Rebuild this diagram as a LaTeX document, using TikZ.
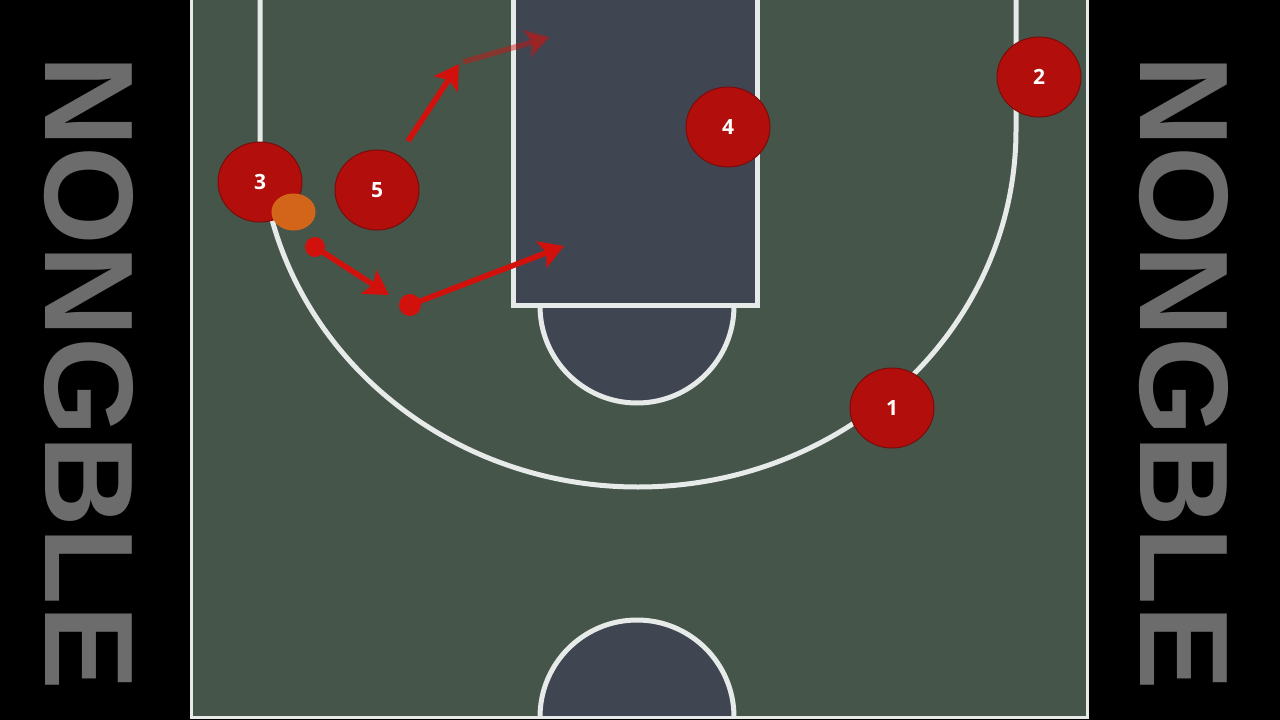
\documentclass[tikz,border=0pt]{standalone}
\usepackage{fontspec}
\setmainfont{Open Sans}
\newfontfamily\sidefont{Liberation Sans}
\usetikzlibrary{shapes.geometric,arrows.meta}
\definecolor{court}{HTML}{45554A}
\definecolor{paint}{HTML}{3F4551}
\definecolor{cline}{HTML}{E6EAE8}
\definecolor{pred}{HTML}{B20F0C}
\definecolor{pborder}{HTML}{7A0C0A}
\definecolor{ared}{HTML}{D3110C}
\definecolor{ball}{HTML}{D2651A}
\definecolor{sidegray}{HTML}{6C6C6C}
\tikzset{
  courtline/.style={draw=cline, line width=5pt},
  player/.style={ellipse, fill=pred, draw=pborder, line width=1pt, minimum width=84pt, minimum height=80pt, inner sep=0pt, text=white, font=\fontsize{21}{21}\selectfont\bfseries},
  arr/.style={draw=ared, line width=5.5pt, -{Stealth[length=24pt,width=28pt,inset=5pt]}},
  dotnode/.style={circle, fill=ared, inner sep=0pt, minimum size=20pt},
  sidetxt/.style={text=sidegray, inner sep=0pt, font=\sidefont\bfseries},
  balls/.style={ellipse, fill=ball, draw=ball!90!orange, line width=1pt, minimum width=43pt, minimum height=36pt, inner sep=0pt}
}
\begin{document}
\begin{tikzpicture}[x=1pt,y=-1pt]
\fill[black] (0,0) rectangle (1280,720);
\useasboundingbox (0,0) rectangle (1280,720);
% court
\fill[court] (190,0) rectangle (1089,719);
% bottom half circle
\begin{scope}
  \clip (190,0) rectangle (1089,717);
  \filldraw[fill=paint, courtline] (637,717) circle[radius=97pt];
\end{scope}
% free throw circle
\filldraw[fill=paint, courtline] (637,306) circle[radius=97pt];
% paint
\filldraw[fill=paint, courtline] (513,-5) rectangle (757,305.5);
% three point line
\draw[courtline] (260,-5) -- (260,130)
  arc[start angle=180, end angle=360, x radius=378pt, y radius=357pt]
  -- (1016,-5);
% court border
\draw[draw=cline, line width=2.5pt] (191.5,-2) -- (191.5,717.5) -- (1087.5,717.5) -- (1087.5,-2);
% side texts
\node[sidetxt, rotate=-90] (lt) at (89,372.5) {\resizebox{635pt}{88pt}{NONGBLE}};
\node[sidetxt, rotate=-90] (rt) at (1184,372.5) {\resizebox{635pt}{88pt}{NONGBLE}};
% arrows
\coordinate (a1s) at (408,141);
\coordinate (a1e) at (459,64);
\coordinate (a2s) at (463,62);
\coordinate (a2e) at (550,37);
\draw[arr] (a1s) -- (a1e);
\draw[arr, opacity=0.45] (a2s) -- (a2e);
\node[dotnode] (d1) at (315,247) {};
\coordinate (d1e) at (389,295);
\draw[arr] (d1.center) -- (d1e);
\node[dotnode, minimum size=22pt] (d2) at (410,305) {};
\coordinate (d2e) at (564,246);
\draw[arr] (d2.center) -- (d2e);
% players
\node[player] (p3) at (260,182) {3};
\node[player] (p5) at (377,190) {5};
\node[player] (p4) at (728,127) {4};
\node[player] (p2) at (1039,77) {2};
\node[player] (p1) at (892,408) {1};
% ball
\node[balls] (ball) at (293.5,212) {};
\end{tikzpicture}
\end{document}
